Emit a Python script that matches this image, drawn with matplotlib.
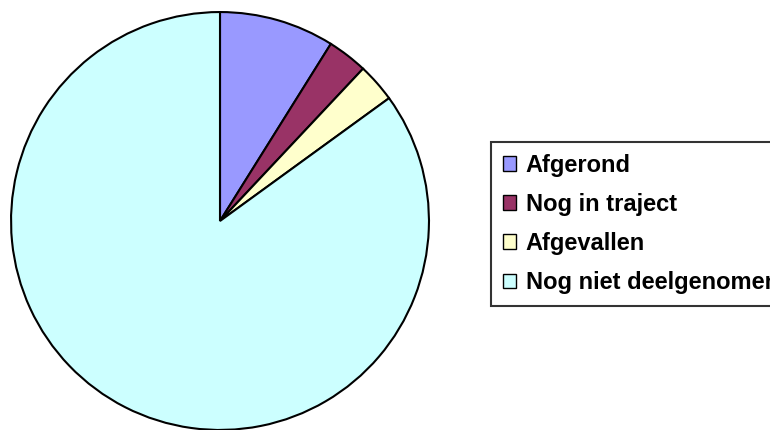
import matplotlib.pyplot as plt

# Deelname aan het traject
labels = ['Afgerond', 'Nog in traject', 'Afgevallen', 'Nog niet deelgenomen']
values = [8.9, 3.1, 3.0, 85.0]
colors = ['#9999FF', '#993366', '#FFFFCC', '#CCFFFF']

plt.rcParams['font.family'] = ['Liberation Sans', 'DejaVu Sans']

fig = plt.figure(figsize=(7.7, 4.3), dpi=100)
ax = fig.add_axes([10 / 770, -1 / 430, 420 / 770, 420 / 430])

wedges, _ = ax.pie(values, colors=colors, startangle=90, counterclock=False,
                   wedgeprops={'edgecolor': 'black', 'linewidth': 1.5})
ax.set_xlim(-1.005, 1.005)
ax.set_ylim(-1.005, 1.005)
ax.set_aspect('equal')
ax.axis('off')

leg = fig.legend(wedges, labels, loc='upper left',
                 bbox_to_anchor=(491 / 770, (430 - 142) / 430),
                 borderaxespad=0, fancybox=False, frameon=True,
                 prop={'weight': 'bold', 'size': 17},
                 handlelength=0.55, handleheight=0.55, handletextpad=0.42,
                 labelspacing=0.68, borderpad=0.5)
leg.get_frame().set_edgecolor('black')
leg.get_frame().set_linewidth(1.5)
for h in leg.legend_handles:
    h.set_linewidth(1.0)

fig.savefig('out.png', dpi=100)
